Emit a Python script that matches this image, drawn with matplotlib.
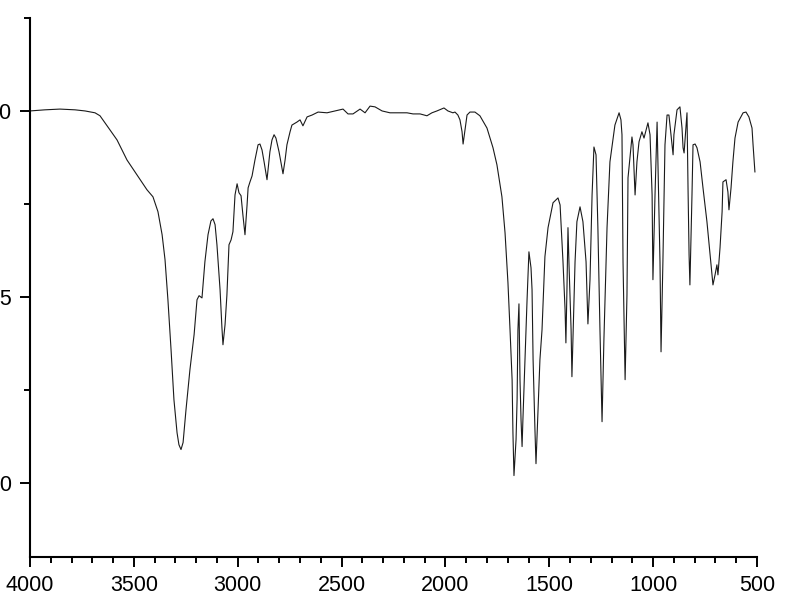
import matplotlib
matplotlib.use("Agg")
import matplotlib.pyplot as plt
from matplotlib.ticker import MultipleLocator

# IR spectrum
wavenumber = [
    4000, 3928, 3856, 3783, 3735, 3687, 3663, 3649, 3615, 3581, 3533, 3485,
    3437, 3408, 3384, 3364, 3350, 3336, 3321, 3307, 3292, 3283, 3273, 3263,
    3249, 3230, 3210, 3196, 3186, 3172, 3158, 3143, 3129, 3119, 3109, 3100,
    3085, 3076, 3071, 3061, 3052, 3042, 3032, 3023, 3013, 3003, 2994, 2984,
    2975, 2965, 2955, 2950, 2941, 2931, 2917, 2902, 2893, 2883, 2873, 2859,
    2845, 2835, 2825, 2816, 2801, 2782, 2772, 2763, 2748, 2739, 2715, 2700,
    2686, 2666, 2642, 2613, 2570, 2532, 2493, 2469, 2445, 2411, 2387, 2363,
    2339, 2305, 2267, 2185, 2156, 2122, 2089, 2065, 2041, 2007, 1988, 1964,
    1954, 1940, 1930, 1920, 1915, 1906, 1896, 1882, 1858, 1834, 1800, 1771,
    1752, 1728, 1713, 1699, 1689, 1679, 1675, 1670, 1660, 1655, 1651, 1646,
    1641, 1636, 1631, 1627, 1617, 1607, 1598, 1588, 1583, 1578, 1569, 1564,
    1554, 1545, 1535, 1521, 1506, 1482, 1458, 1448, 1434, 1424, 1420, 1415,
    1410, 1405, 1395, 1391, 1381, 1376, 1367, 1352, 1338, 1323, 1314, 1304,
    1294, 1285, 1275, 1266, 1256, 1246, 1237, 1222, 1208, 1184, 1164, 1155,
    1150, 1145, 1135, 1126, 1121, 1102, 1097, 1087, 1078, 1068, 1054, 1044,
    1030, 1025, 1015, 1005, 1001, 991, 981, 977, 967, 962, 953, 943,
    933, 924, 909, 904, 900, 885, 871, 861, 856, 851, 842, 837,
    832, 827, 823, 813, 808, 798, 789, 774, 760, 741, 726, 712,
    702, 693, 688, 678, 668, 664, 649, 640, 635, 625, 616, 606,
    591, 567, 553, 539, 524, 519, 510,
]
transmittance = [
    100.00, 100.03, 100.05, 100.03, 100.00, 99.95, 99.87, 99.76, 99.49, 99.22, 98.68, 98.28,
    97.88, 97.69, 97.29, 96.67, 96.00, 94.92, 93.58, 92.23, 91.34, 91.02, 90.89, 91.08,
    91.96, 93.04, 93.98, 94.92, 95.03, 94.97, 95.94, 96.67, 97.04, 97.10, 96.94, 96.40,
    95.19, 94.17, 93.71, 94.25, 95.05, 96.40, 96.53, 96.75, 97.74, 98.04, 97.80, 97.72,
    97.20, 96.67, 97.47, 97.93, 98.09, 98.25, 98.68, 99.09, 99.11, 98.95, 98.63, 98.15,
    98.90, 99.22, 99.36, 99.27, 98.90, 98.31, 98.68, 99.09, 99.44, 99.62, 99.70, 99.76,
    99.60, 99.84, 99.89, 99.97, 99.95, 100.00, 100.05, 99.92, 99.92, 100.05, 99.95, 100.13,
    100.11, 100.00, 99.95, 99.95, 99.92, 99.92, 99.87, 99.95, 100.00, 100.08, 100.00, 99.95,
    99.97, 99.89, 99.76, 99.44, 99.11, 99.49, 99.89, 99.97, 99.97, 99.87, 99.54, 99.01,
    98.55, 97.69, 96.72, 95.38, 94.11, 92.77, 91.34, 90.19, 91.16, 92.23, 94.11, 94.81,
    92.77, 91.69, 90.97, 91.69, 93.31, 94.92, 96.21, 95.78, 95.19, 93.31, 91.42, 90.51,
    91.96, 93.31, 94.11, 96.08, 96.86, 97.53, 97.66, 97.47, 95.94, 94.65, 93.76, 95.19,
    96.86, 95.86, 94.11, 92.85, 94.92, 95.94, 97.02, 97.42, 97.02, 95.94, 94.27, 95.46,
    97.74, 99.03, 98.82, 96.86, 94.11, 91.64, 93.85, 96.86, 98.63, 99.62, 99.95, 99.76,
    99.36, 95.94, 92.77, 95.05, 98.20, 99.30, 99.09, 97.74, 98.63, 99.17, 99.44, 99.27,
    99.57, 99.68, 99.36, 97.74, 95.46, 97.74, 99.70, 98.63, 95.94, 93.52, 95.94, 99.09,
    99.89, 99.89, 99.09, 98.82, 99.36, 100.03, 100.11, 99.54, 99.01, 98.87, 99.54, 99.95,
    97.90, 96.13, 95.32, 97.74, 99.09, 99.11, 99.01, 98.63, 97.93, 97.02, 96.13, 95.32,
    95.59, 95.86, 95.59, 96.32, 97.29, 98.09, 98.15, 97.82, 97.34, 97.93, 98.63, 99.27,
    99.70, 99.95, 99.97, 99.84, 99.54, 99.09, 98.36,
]

plt.rcParams['font.family'] = ['Liberation Sans', 'DejaVu Sans']

fig = plt.figure(figsize=(8, 6.13), dpi=100)
ax = fig.add_axes([0.0375, 0.0914, 0.90875, 0.8792])

ax.plot(wavenumber, transmittance, color='#1a1a1a', lw=0.8)

ax.set_xlim(4000, 500)
ax.set_ylim(88.0, 102.5)
ax.xaxis.set_major_locator(MultipleLocator(500))
ax.xaxis.set_minor_locator(MultipleLocator(100))
ax.yaxis.set_major_locator(MultipleLocator(5))
ax.yaxis.set_minor_locator(MultipleLocator(2.5))

for s in ['top', 'right']:
    ax.spines[s].set_visible(False)
for s in ['left', 'bottom']:
    ax.spines[s].set_linewidth(1.5)

ax.tick_params(which='major', length=7.5, width=1.4, labelsize=15.5, pad=5.5)
ax.tick_params(which='minor', length=4.5, width=1.4)

fig.savefig('out.png', dpi=100)
